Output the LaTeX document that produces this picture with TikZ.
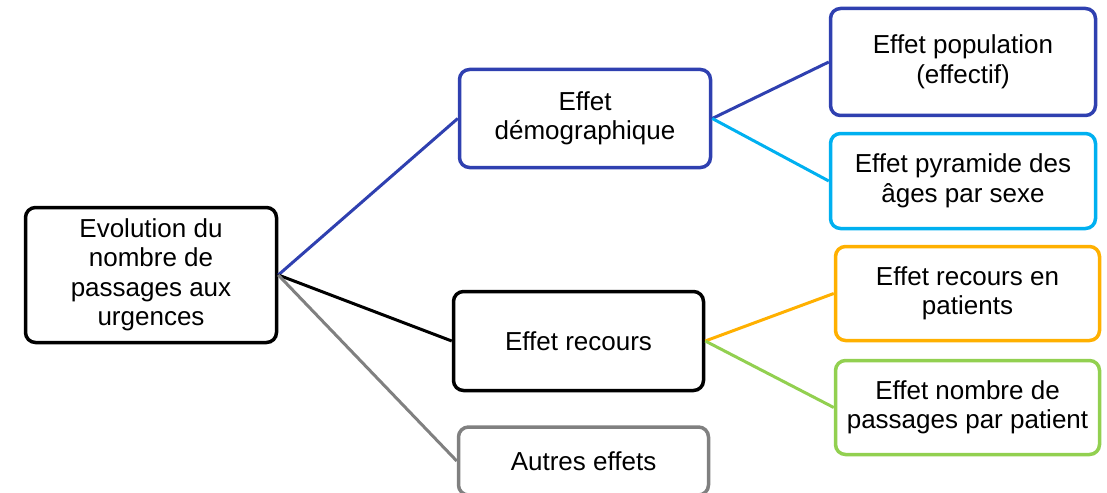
\documentclass[tikz,border=0pt]{standalone}
\usepackage{fontspec}
\setmainfont{Liberation Sans}
\usetikzlibrary{positioning}
\definecolor{Indigo}{RGB}{47,64,176}
\definecolor{Ciel}{RGB}{0,176,240}
\definecolor{Ambre}{RGB}{255,176,0}
\definecolor{Anis}{RGB}{146,208,80}
\definecolor{Ardoise}{RGB}{128,128,128}

\tikzset{
  effet/.style={draw, line width=3.5pt, rounded corners=10pt, align=center,
    inner sep=0pt, fill=white, font=\fontsize{26}{29.5}\selectfont},
  lien/.style={line width=3pt},
}

\begin{document}
\begin{tikzpicture}[x=1pt,y=-1pt]
\useasboundingbox (0,0) rectangle (1107,492);
% niveau 1
\node[effet, minimum width=251pt, minimum height=135pt] (evol) at (151,275)
  {Evolution du\\nombre de\\passages aux\\urgences};
% niveau 2
\node[effet, draw=Indigo, minimum width=251pt, minimum height=98pt] (demo) at (585,118.5)
  {Effet\\démographique};
\node[effet, minimum width=250pt, minimum height=99pt] (recours) at (578.5,341)
  {Effet recours};
\node[effet, draw=Ardoise, minimum width=250pt, minimum height=68pt] (autres) at (583.5,461)
  {Autres effets};
% niveau 3
\node[effet, draw=Indigo, minimum width=265pt, minimum height=107pt] (pop) at (963,62)
  {Effet population\\(effectif)};
\node[effet, draw=Ciel, minimum width=265pt, minimum height=95pt] (pyr) at (963,181)
  {Effet pyramide des\\âges par sexe};
\node[effet, draw=Ambre, minimum width=264pt, minimum height=94pt] (rpat) at (967.5,293.5)
  {Effet recours en\\patients};
\node[effet, draw=Anis, minimum width=264pt, minimum height=94pt] (nbpat) at (967.5,407.5)
  {Effet nombre de\\passages par patient};
%
%
\draw[lien, Indigo] (evol.east) -- (demo.west);
\draw[lien, black] (evol.east) -- (recours.west);
\draw[lien, Ardoise] (evol.east) -- (autres.west);
\draw[lien, Indigo] (demo.east) -- (pop.west);
\draw[lien, Ciel] (demo.east) -- (pyr.west);
\draw[lien, Ambre] (recours.east) -- (rpat.west);
\draw[lien, Anis] (recours.east) -- (nbpat.west);
%
%
\end{tikzpicture}
\end{document}
